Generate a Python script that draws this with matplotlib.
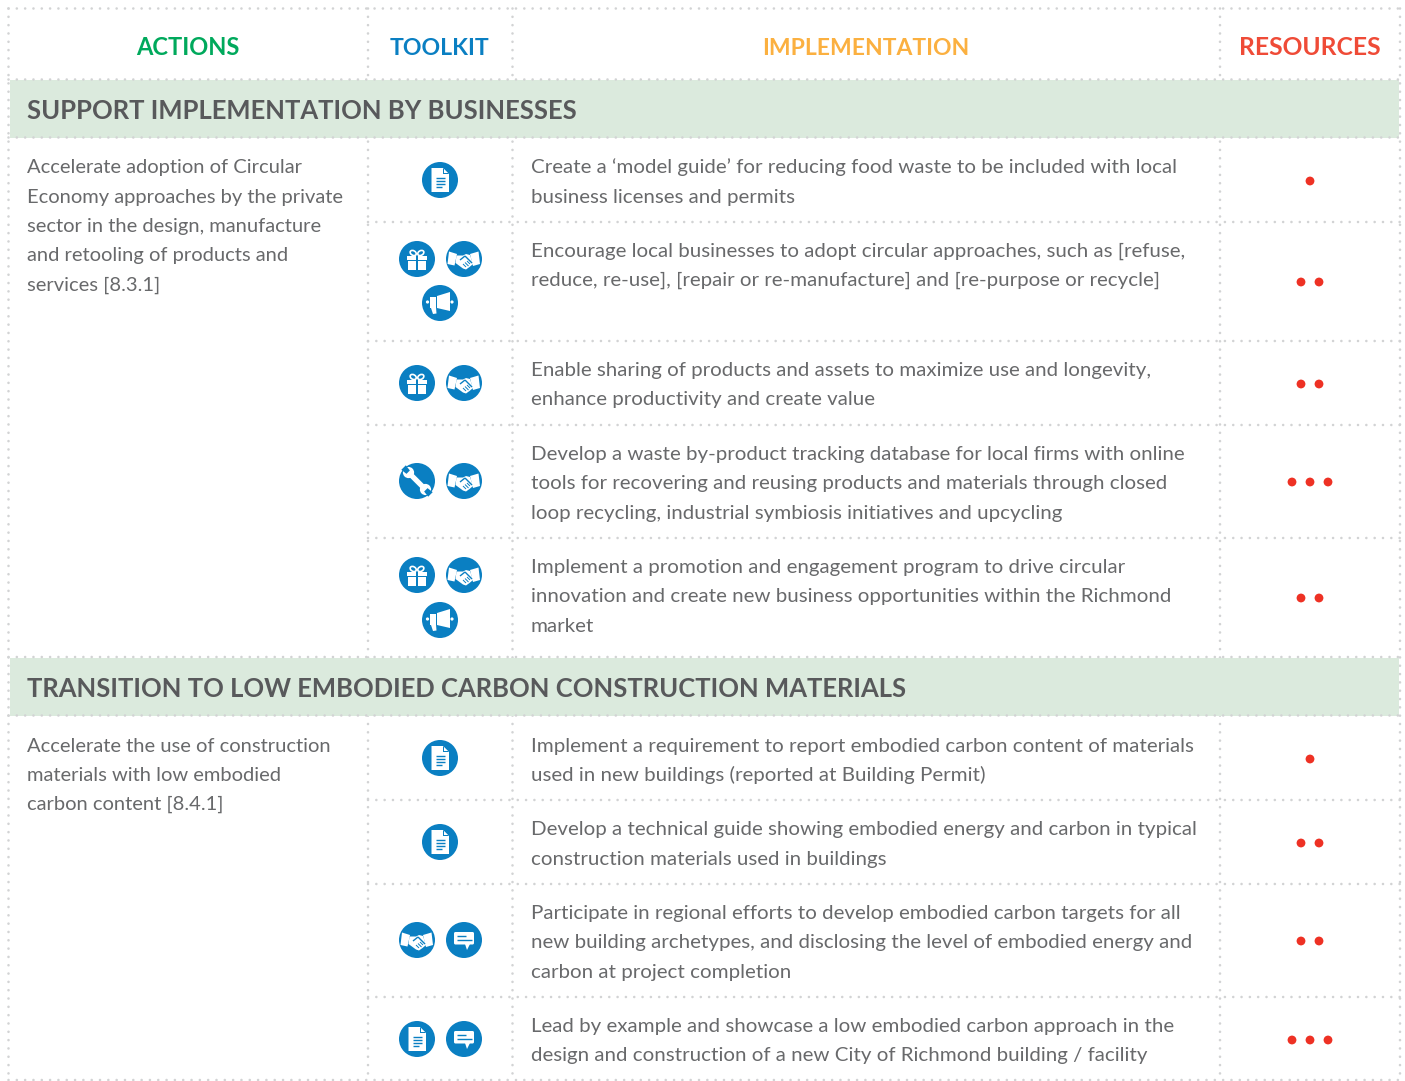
import matplotlib
matplotlib.use("Agg")
import matplotlib.pyplot as plt
from matplotlib.patches import Circle, Polygon, Rectangle, FancyBboxPatch, Ellipse
import numpy as np

plt.rcParams['lines.scale_dashes'] = False
FONT = 'Lato'
W, H = 1405, 1081

TXT = '#58595b'; BODY = '#68696b'; BLUE = '#0a7fc2'; RED = '#ee3124'; DOT = '#d2d3d4'; BAND = '#dbeadd'

headers = ['ACTIONS', 'TOOLKIT', 'IMPLEMENTATION', 'RESOURCES']
header_colors = ['#00a95c', '#0a7fc2', '#fbb040', '#ef4b37']
header_x = [188, 440, 866, 1310]
header_sizes = [17.0, 16.6, 16.5, 17.7]
sections = ['SUPPORT IMPLEMENTATION BY BUSINESSES', 'TRANSITION TO LOW EMBODIED CARBON CONSTRUCTION MATERIALS']
section_y = [119, 697]
action_1 = ['Accelerate adoption of Circular', 'Economy approaches by the private', 'sector in the design, manufacture',
            'and retooling of products and', 'services [8.3.1]']
action_1_y = [173, 203, 232, 261, 291]
action_2 = ['Accelerate the use of construction', 'materials with low embodied', 'carbon content [8.4.1]']
action_2_y = [752, 781, 810]
impl = [
    (['Create a ‘model guide’ for reducing food waste to be included with local', 'business licenses and permits'], [173, 203]),
    (['Encourage local businesses to adopt circular approaches, such as [refuse,', 'reduce, re-use], [repair or re-manufacture] and [re-purpose or recycle]'], [257, 286]),
    (['Enable sharing of products and assets to maximize use and longevity,', 'enhance productivity and create value'], [376, 405]),
    (['Develop a waste by-product tracking database for local firms with online', 'tools for recovering and reusing products and materials through closed', 'loop recycling, industrial symbiosis initiatives and upcycling'], [460, 489, 519]),
    (['Implement a promotion and engagement program to drive circular', 'innovation and create new business opportunities within the Richmond', 'market'], [573, 602, 632]),
    (['Implement a requirement to report embodied carbon content of materials', 'used in new buildings (reported at Building Permit)'], [752, 781]),
    (['Develop a technical guide showing embodied energy and carbon in typical', 'construction materials used in buildings'], [835, 865]),
    (['Participate in regional efforts to develop embodied carbon targets for all', 'new building archetypes, and disclosing the level of embodied energy and', 'carbon at project completion'], [919, 948, 978]),
    (['Lead by example and showcase a low embodied carbon approach in the', 'design and construction of a new City of Richmond building / facility'], [1032, 1061]),
]
resources = [1, 2, 2, 3, 2, 1, 2, 2, 3]
resource_y = [181, 282, 384, 482, 598, 759, 843, 941, 1040]
icons = [
    [('doc', 440, 180)],
    [('gift', 417, 259), ('hands', 464, 259), ('mega', 440, 303)],
    [('gift', 417, 383), ('hands', 464, 383)],
    [('wrench', 417, 481), ('hands', 464, 481)],
    [('gift', 417, 575), ('hands', 464, 575), ('mega', 440, 620)],
    [('doc', 440, 758)],
    [('doc', 440, 842)],
    [('hands', 417, 940), ('chat', 464, 940)],
    [('doc', 417, 1039), ('chat', 464, 1039)],
]
v_full = [8.5, 1400]
v_inner = [368, 512.5, 1220]
h_full = [8.5, 79.5, 137.5, 657, 715.5, 1080]
h_row = [222, 341, 425, 538, 800, 884, 997]

fig = plt.figure(figsize=(W/100, H/100), dpi=100)
ax = fig.add_axes([0, 0, 1, 1])
ax.set_xlim(0, W); ax.set_ylim(H, 0); ax.axis('off')

def dotted(xs, ys, z=2):
    ax.plot(xs, ys, color=DOT, lw=1.9, ls=(0, (0.01, 5.98)), dash_capstyle='round', zorder=z, snap=False)

for x in v_full + v_inner:
    dotted([x, x], [8.5, 1080])
for y0, y1 in [(80, 137.5), (658, 715.5)]:
    ax.add_patch(Rectangle((10, y0), 1389, y1-y0, fc=BAND, ec='none', zorder=3))
for y in h_full:
    dotted([8.5, 1400], [y, y], z=4)
for y in h_row:
    dotted([368, 1400], [y, y])

for s, c, x, fs in zip(headers, header_colors, header_x, header_sizes):
    ax.text(x, 55, s, color=c, fontsize=fs, family=FONT, weight='bold', ha='center', va='baseline', zorder=5)
for s, y in zip(sections, section_y):
    ax.text(27, y, s, color=TXT, fontsize=18.45, family=FONT, weight='bold', ha='left', va='baseline', zorder=5)
for lines, ys in [(action_1, action_1_y), (action_2, action_2_y)]:
    for s, y in zip(lines, ys):
        ax.text(27, y, s, color=BODY, fontsize=14.5, family=FONT, weight='normal', ha='left', va='baseline', zorder=5)
for lines, ys in impl:
    for s, y in zip(lines, ys):
        ax.text(531, y, s, color=BODY, fontsize=14.75, family=FONT, weight='normal', ha='left', va='baseline', zorder=5)

for n, y in zip(resources, resource_y):
    for i in range(n):
        ax.add_patch(Circle((1310 + (i - (n-1)/2)*18, y), 4.4, fc=RED, ec='none', zorder=5))

def poly(cx, cy, pts, fc='white', z=7):
    ax.add_patch(Polygon([(cx+a, cy+b) for a, b in pts], closed=True, fc=fc, ec='none', zorder=z))

def seg(cx, cy, a, b, fc='white', lw=1.0, z=8):
    ax.plot([cx+a[0], cx+b[0]], [cy+a[1], cy+b[1]], color=fc, lw=lw, solid_capstyle='butt', zorder=z)

def doc(cx, cy):
    poly(cx, cy, [(-8.5,-12), (3,-12), (9,-6), (9,12), (-8.5,12)])
    poly(cx, cy, [(3,-12), (3,-6), (9,-6)], fc=BLUE, z=8)
    poly(cx, cy, [(4,-11), (4,-7), (8,-7)], z=9)
    for dy, x1 in [(-2, 5), (1, 5), (4, 5), (6.5, 2)]:
        seg(cx, cy, (-4.5, dy), (x1, dy), fc=BLUE, lw=1.0)

def gift(cx, cy):
    ax.add_patch(Rectangle((cx-10, cy-3), 20, 4, fc='white', ec='none', zorder=7))
    ax.add_patch(Rectangle((cx-9, cy+2), 18, 9, fc='white', ec='none', zorder=7))
    ax.add_patch(Rectangle((cx-1, cy-3), 2, 14, fc=BLUE, ec='none', zorder=8))
    for s, ang in [(-1, 30), (1, -30)]:
        ax.add_patch(Ellipse((cx+s*3.8, cy-6), 6.5, 4.6, angle=ang, fc='none', ec='white', lw=1.2, zorder=7))

def hands(cx, cy):
    poly(cx, cy, [(-15,-7.5), (-7,-5), (-9.5,6.5), (-16.5,5)])
    poly(cx, cy, [(6,-5), (14.5,-7.5), (16,5), (9,7)])
    poly(cx, cy, [(-7.5,-3.5), (-1,-3.5), (2,-5), (6,-4), (9,5), (5.5,8), (2,10.5), (-1,9.5), (-8.5,4)])
    seg(cx, cy, (-4,1), (1,-3), fc=BLUE, lw=1.0)
    seg(cx, cy, (1,-3), (8,4), fc=BLUE, lw=1.0)
    for a, b in [((-1,5), (2,8)), ((1,3.5), (4.5,7)), ((3,2), (6,5))]:
        seg(cx, cy, a, b, fc=BLUE, lw=0.7)

def mega(cx, cy):
    poly(cx, cy, [(-3,-7), (10,-11), (10,8), (-3,5)])
    ax.add_patch(Rectangle((cx-10.5, cy-6), 6.5, 10.5, fc='white', ec='none', zorder=7))
    poly(cx, cy, [(-9,5), (-4,4.5), (-3.5,10.5), (-7,11)])
    ax.add_patch(Circle((cx-12.5, cy-1), 1.6, fc='white', ec='none', zorder=7))
    ax.add_patch(Circle((cx+12, cy-1), 1.6, fc='white', ec='none', zorder=7))

def wrench(cx, cy):
    u = np.array([1, 1])/np.sqrt(2); v = np.array([1, -1])/np.sqrt(2)
    def P(a, b):
        p = a*u + b*v
        return (p[0], p[1])
    poly(cx, cy, [P(-12,-2.6), P(12,-2.6), P(12,2.6), P(-12,2.6)])
    for s in (-1, 1):
        p = P(s*12, 0)
        ax.add_patch(Circle((cx+p[0], cy+p[1]), 5.6, fc='white', ec='none', zorder=7))
        poly(cx, cy, [P(s*12.5,-2.4), P(s*19,-3.2), P(s*19,3.2), P(s*12.5,2.4)], fc=BLUE, z=8)

def chat(cx, cy):
    ax.add_patch(FancyBboxPatch((cx-9.5, cy-7.5), 19, 11.5, boxstyle='round,pad=0.5,rounding_size=1.5',
                                fc='white', ec='none', zorder=7))
    poly(cx, cy, [(1,4), (6,4), (3,10)])
    seg(cx, cy, (-7,-4), (2,-4), fc=BLUE, lw=1.0)
    seg(cx, cy, (-7,-0.5), (8,-0.5), fc=BLUE, lw=1.0)

draw = dict(doc=doc, gift=gift, hands=hands, mega=mega, wrench=wrench, chat=chat)
for row in icons:
    for name, x, y in row:
        ax.add_patch(Circle((x, y), 18, fc=BLUE, ec='none', zorder=6))
        draw[name](x, y)

fig.savefig('out.png', dpi=100, facecolor='white')
